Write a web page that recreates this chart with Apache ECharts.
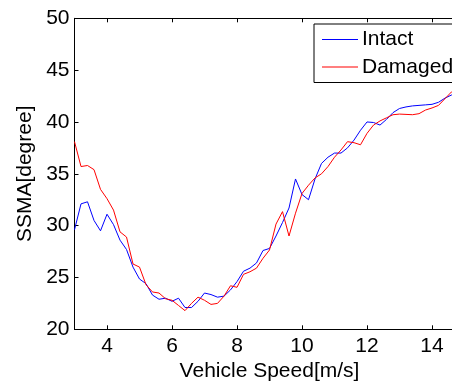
<!DOCTYPE html>
<html>
<head>
<meta charset="utf-8">
<script src="https://cdn.jsdelivr.net/npm/echarts@6/dist/echarts.min.js"></script>
<style>
html,body{margin:0;padding:0;background:#fff;}
#chart{width:452px;height:385px;}
</style>
</head>
<body>
<div id="chart"></div>
<script>
const speeds = [3.0,3.2,3.4,3.6,3.8,4.0,4.2,4.4,4.6,4.8,5.0,5.2,5.4,5.6,5.8,6.0,6.2,6.4,6.6,6.8,
  7.0,7.2,7.4,7.6,7.8,8.0,8.2,8.4,8.6,8.8,9.0,9.2,9.4,9.6,9.8,10.0,10.2,10.4,10.6,10.8,
  11.0,11.2,11.4,11.6,11.8,12.0,12.2,12.4,12.6,12.8,13.0,13.2,13.4,13.6,13.8,14.0,14.2,14.4,14.6,14.8];
const intact = [29.6,32.1,32.3,30.5,29.5,31.1,30.1,28.6,27.7,26.0,24.85,24.4,23.3,22.9,23.0,22.7,23.0,22.1,22.1,22.7,
  23.5,23.35,23.1,23.2,23.8,24.6,25.6,25.9,26.4,27.6,27.8,29.0,30.3,31.7,34.5,33.0,32.5,34.5,36.0,36.6,
  37.0,37.0,37.5,38.25,39.2,40.0,39.95,39.7,40.25,40.9,41.3,41.45,41.55,41.6,41.65,41.7,41.9,42.3,42.6,42.8];
const damaged = [38.1,35.7,35.8,35.4,33.5,32.6,31.5,29.4,28.9,26.3,26.0,24.3,23.6,23.5,22.95,22.8,22.3,21.8,22.5,23.1,
  22.8,22.4,22.5,23.2,24.2,24.05,25.3,25.55,25.9,26.85,27.65,30.15,31.35,29.0,31.2,33.1,33.9,34.6,35.0,35.7,
  36.6,37.3,38.1,38.0,37.8,38.9,39.7,40.1,40.4,40.7,40.76,40.73,40.7,40.8,41.15,41.35,41.6,42.25,42.9,43.3];
const seriesNames = ['Intact','Damaged'];
const xLabel = 'Vehicle Speed[m/s]';
const yLabel = 'SSMA[degree]';

const FONT = 'Liberation Sans, Arial, sans-serif';
const chart = echarts.init(document.getElementById('chart'), null, {renderer:'canvas'});
const axisCommon = {
  axisLine:{show:true,lineStyle:{color:'#000',width:1}},
  axisTick:{show:true,inside:true,length:4,lineStyle:{color:'#000',width:1}},
  splitLine:{show:false}
};
chart.setOption({
  animation:false,
  backgroundColor:'#fff',
  grid:{left:74.5,top:18.3,width:390,height:311,outerBoundsMode:'none',containLabel:false},
  legend:{
    data:seriesNames, orient:'vertical', left:314, top:24,
    icon:'rect', itemWidth:36, itemHeight:1.2,
    padding:[5,40,5,8], itemGap:6.5,
    backgroundColor:'#fff', borderColor:'#000', borderWidth:1, borderRadius:0,
    textStyle:{fontFamily:FONT,fontSize:21,color:'#000',lineHeight:20,padding:[0,0,0,-1]}
  },
  xAxis:[
    Object.assign({type:'value',position:'bottom',min:3,max:15,
      name:xLabel,nameLocation:'middle',nameGap:28,
      nameTextStyle:{fontFamily:FONT,fontSize:21,color:'#000'},
      axisLabel:{fontFamily:FONT,fontSize:21,color:'#000',margin:6,showMinLabel:false,showMaxLabel:false}},axisCommon),
    Object.assign({type:'value',position:'top',min:3,max:15,axisLabel:{show:false}},axisCommon)
  ],
  yAxis:[
    Object.assign({type:'value',position:'left',min:20,max:50,interval:5,
      name:yLabel,nameLocation:'middle',nameGap:33,
      nameTextStyle:{fontFamily:FONT,fontSize:21,color:'#000'},
      axisLabel:{fontFamily:FONT,fontSize:21,color:'#000',margin:5}},axisCommon),
    Object.assign({type:'value',position:'right',min:20,max:50,interval:5,axisLabel:{show:false}},axisCommon)
  ],
  series:[
    {name:seriesNames[0],type:'line',symbol:'none',data:speeds.map((s,i)=>[s,intact[i]]),
      lineStyle:{color:'#0000ff',width:1},itemStyle:{color:'#0000ff'}},
    {name:seriesNames[1],type:'line',symbol:'none',data:speeds.map((s,i)=>[s,damaged[i]]),
      lineStyle:{color:'#ff0000',width:1},itemStyle:{color:'#ff0000'}}
  ]
});
</script>
</body>
</html>
